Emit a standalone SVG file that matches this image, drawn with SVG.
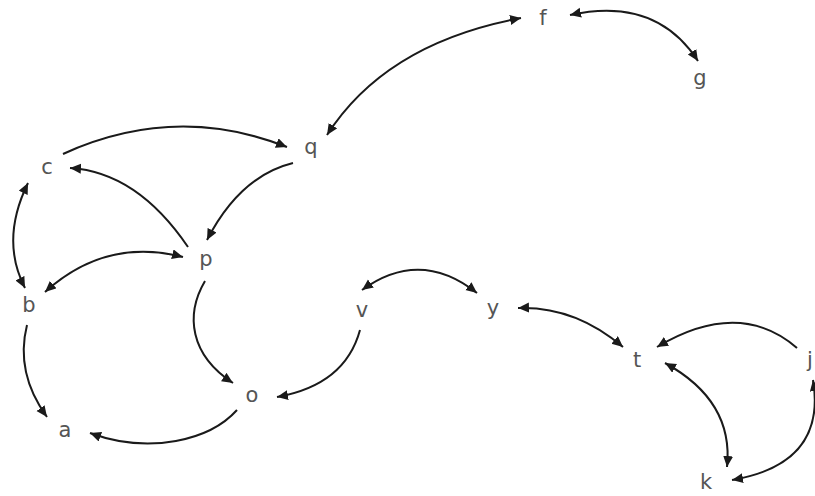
<svg xmlns="http://www.w3.org/2000/svg" width="815" height="496" viewBox="0 0 815 496">
<defs>
<marker id="ah" markerUnits="userSpaceOnUse" markerWidth="12" markerHeight="11" refX="11" refY="5" orient="auto-start-reverse">
<path d="M0,0 L11,5 L0,10 z" fill="#1a1a1a"/>
</marker>
<style>
.e{fill:none;stroke:#1a1a1a;stroke-width:2}
.one{marker-end:url(#ah)}
.two{marker-start:url(#ah);marker-end:url(#ah)}
.n text{font-family:"DejaVu Sans",Verdana,sans-serif;font-size:21px;fill:#555;text-anchor:middle}
</style>
</defs>
<rect width="815" height="496" fill="#fff"/>
<g id="edges">
<path class="e one" d="M63,154 Q175,103 287,147"/>
<path class="e one" d="M293,163 Q240,176 207,240"/>
<path class="e one" d="M188,247 Q137,172 70,168"/>
<path class="e two" d="M28,183 Q0,240 25,288"/>
<path class="e two" d="M45,292 Q106,237 183,257"/>
<path class="e one" d="M205,281 C185,315 190,355 233,383"/>
<path class="e one" d="M360,330 Q345,385 277,397"/>
<path class="e one" d="M27,325 Q15,373 47,417"/>
<path class="e one" d="M237,410 C210,440 150,455 90,433"/>
<path class="e two" d="M521,18 Q386,43 327,135"/>
<path class="e two" d="M570,15 Q656,-4 698,61"/>
<path class="e two" d="M362,290 Q420,248 477,293"/>
<path class="e two" d="M518,308 Q575,306 623,347"/>
<path class="e one" d="M797,348 Q739,298 657,347"/>
<path class="e two" d="M665,363 Q734,401 727,467"/>
<path class="e two" d="M813,380 Q827,464 732,480"/>
</g>
<g id="f" class="n"><text x="543" y="25">f</text></g>
<g id="g" class="n"><text x="700" y="85">g</text></g>
<g id="q" class="n"><text x="311" y="154">q</text></g>
<g id="c" class="n"><text x="47" y="174">c</text></g>
<g id="p" class="n"><text x="206" y="266">p</text></g>
<g id="b" class="n"><text x="29" y="312">b</text></g>
<g id="a" class="n"><text x="65" y="437">a</text></g>
<g id="o" class="n"><text x="252" y="402">o</text></g>
<g id="v" class="n"><text x="362" y="317">v</text></g>
<g id="y" class="n"><text x="493" y="315">y</text></g>
<g id="t" class="n"><text x="637" y="367">t</text></g>
<g id="j" class="n"><text x="810" y="367">j</text></g>
<g id="k" class="n"><text x="706" y="489">k</text></g>
</svg>
